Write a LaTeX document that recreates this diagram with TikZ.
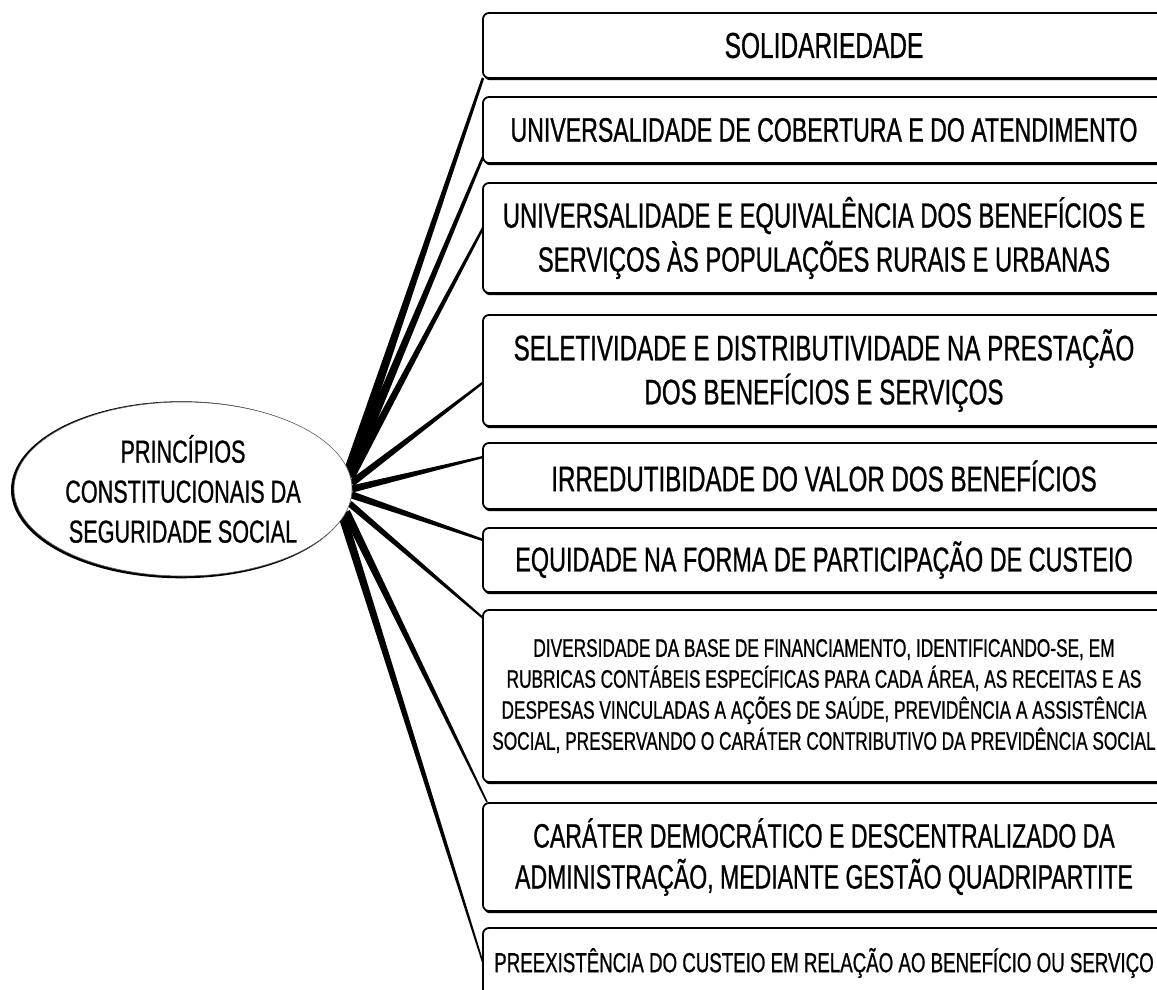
\documentclass[tikz,border=0pt]{standalone}
\usepackage{fontspec}
\newfontfamily\boxfont{Liberation Sans}[FakeStretch=0.68,FakeBold=0.7]
\usetikzlibrary{shapes.geometric,calc,backgrounds}

\begin{document}
\begin{tikzpicture}[x=1pt,y=-1pt,
  principle/.style={draw, line width=1.8pt, fill=white, rounded corners=6pt,
    anchor=north west, minimum width=682pt, inner sep=0pt, outer sep=0pt,
    align=center},
  hub/.style={ellipse, draw=black!65, line width=0.6pt, fill=white,
    minimum width=338pt, minimum height=174pt, inner sep=0pt, outer sep=0pt,
    align=center},
  boxshadow/.style={fill=black, rounded corners=6pt},
  taper/.style={fill=black},
]
\useasboundingbox (0,0) rectangle (1157,990);

% central ellipse
\node[hub, font=\boxfont\fontsize{31.8}{40}\selectfont] (ell) at (183,489)
  {PRINCÍPIOS\\CONSTITUCIONAIS DA\\SEGURIDADE SOCIAL};

% the principles
\node[principle, minimum height=65pt, font=\boxfont\fontsize{36}{44}\selectfont]
  (b1) at (483,13) {SOLIDARIEDADE};
\node[principle, minimum height=66pt, font=\boxfont\fontsize{34}{44}\selectfont]
  (b2) at (483,97) {UNIVERSALIDADE DE COBERTURA E DO ATENDIMENTO};
\node[principle, minimum height=110pt, font=\boxfont\fontsize{35}{44}\selectfont]
  (b3) at (483,183) {UNIVERSALIDADE E EQUIVALÊNCIA DOS BENEFÍCIOS E\\SERVIÇOS ÀS POPULAÇÕES RURAIS E URBANAS};
\node[principle, minimum height=111pt, font=\boxfont\fontsize{35.5}{44}\selectfont]
  (b4) at (483,315) {SELETIVIDADE E DISTRIBUTIVIDADE NA PRESTAÇÃO\\DOS BENEFÍCIOS E SERVIÇOS};
\node[principle, minimum height=66pt, font=\boxfont\fontsize{35.5}{44}\selectfont]
  (b5) at (483,443) {IRREDUTIBIDADE DO VALOR DOS BENEFÍCIOS};
\node[principle, minimum height=64pt, font=\boxfont\fontsize{34.4}{44}\selectfont]
  (b6) at (483,528) {EQUIDADE NA FORMA DE PARTICIPAÇÃO DE CUSTEIO};
\node[principle, minimum height=172pt, font=\boxfont\fontsize{25.4}{31}\selectfont]
  (b7) at (483,610) {DIVERSIDADE DA BASE DE FINANCIAMENTO, IDENTIFICANDO-SE, EM\\
  RUBRICAS CONTÁBEIS ESPECÍFICAS PARA CADA ÁREA, AS RECEITAS E AS\\
  DESPESAS VINCULADAS A AÇÕES DE SAÚDE, PREVIDÊNCIA A ASSISTÊNCIA\\
  SOCIAL, PRESERVANDO O CARÁTER CONTRIBUTIVO DA PREVIDÊNCIA SOCIAL};
\node[principle, minimum height=108pt, font=\boxfont\fontsize{33.9}{41}\selectfont]
  (b8) at (483,803) {CARÁTER DEMOCRÁTICO E DESCENTRALIZADO DA\\ADMINISTRAÇÃO, MEDIANTE GESTÃO QUADRIPARTITE};
\node[principle, minimum height=70pt, font=\boxfont\fontsize{27.5}{34}\selectfont]
  (b9) at (483,928) {PREEXISTÊNCIA DO CUSTEIO EM RELAÇÃO AO BENEFÍCIO OU SERVIÇO};

% connector ends on the ellipse
\coordinate (s1) at (ell.6);
\coordinate (s2) at (ell.5);
\coordinate (s3) at (ell.4);
\coordinate (s4) at (ell.2);
\coordinate (s5) at (ell.0);
\coordinate (s6) at (ell.358);
\coordinate (s7) at (ell.355);
\coordinate (s8) at (ell.352);
\coordinate (s9) at (ell.350);
% connector ends on the boxes
\coordinate (e1) at (b1.south west);
\coordinate (e2) at ($(b2.south west)+(0,-6)$);
\coordinate (e3) at ($(b3.west)+(0,-10)$);
\coordinate (e4) at ($(b4.west)+(0,12)$);
\coordinate (e5) at ($(b5.west)+(0,-19)$);
\coordinate (e6) at ($(b6.west)+(0,-20)$);
\coordinate (e7) at ($(b7.north west)+(0,8)$);
\coordinate (e8) at ($(b8.north west)+(4,-1)$);
\coordinate (e9) at (b9.west);

\begin{scope}[on background layer]
  % heavy lower edges of the boxes
  \foreach \i in {1,...,9}
    \fill[boxshadow] ($(b\i.north west)+(1,2.2)$) rectangle ($(b\i.south east)+(1,2.2)$);
  % heavy left rim of the ellipse
  \fill ($(ell.center)+(-2,0.8)$) ellipse [x radius=170pt, y radius=88.5pt];
  % tapered spokes
  \foreach \i/\wa/\wb in {1/5pt/1.3pt, 2/5pt/1.3pt, 3/4.2pt/1.2pt,
      4/3.6pt/1.1pt, 5/3.6pt/1.1pt, 6/3.6pt/1.2pt, 7/3.2pt/1pt,
      8/4.2pt/0.8pt, 9/4.2pt/0.8pt}
    \fill[taper] ($(s\i)!\wa!90:(e\i)$) -- ($(s\i)!\wa!-90:(e\i)$)
      -- ($(e\i)!\wb!90:(s\i)$) -- ($(e\i)!\wb!-90:(s\i)$) -- cycle;
\end{scope}
\end{tikzpicture}
\end{document}
